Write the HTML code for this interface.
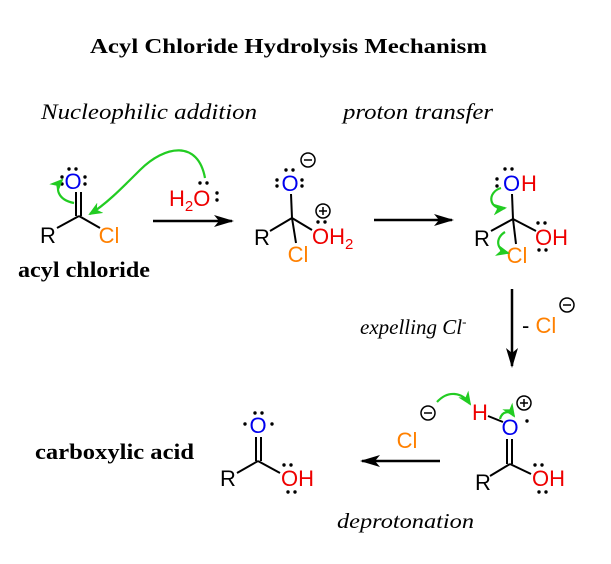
<!DOCTYPE html>
<html><head><meta charset="utf-8"><style>
html,body{margin:0;padding:0;background:#fff}
svg{display:block}
.a{font-family:"Liberation Sans",Arial,sans-serif;font-size:22px}
.s{font-family:"Liberation Serif",serif}
</style></head><body>
<svg width="611" height="564" viewBox="0 0 611 564" xmlns="http://www.w3.org/2000/svg">
<defs>
<marker id="ah" markerWidth="22" markerHeight="12" refX="18" refY="6" orient="auto" markerUnits="userSpaceOnUse"><path d="M0,0 L20,6 L0,12 L5,6z" fill="#000"/></marker>
<marker id="gh" markerWidth="14" markerHeight="12" refX="12" refY="6" orient="auto" markerUnits="userSpaceOnUse"><path d="M0,0 L14,6 L0,12 L4,6z" fill="#22cc22"/></marker>
</defs>
<g fill="#000">
<text class="s" x="90" y="53" font-size="21" font-weight="bold" textLength="397" lengthAdjust="spacingAndGlyphs">Acyl Chloride Hydrolysis Mechanism</text>
<text class="s" x="41" y="119" font-size="22" font-style="italic" textLength="216" lengthAdjust="spacingAndGlyphs">Nucleophilic addition</text>
<text class="s" x="343" y="119" font-size="22" font-style="italic" textLength="150" lengthAdjust="spacingAndGlyphs">proton transfer</text>
<text class="s" x="18" y="277" font-size="22" font-weight="bold" textLength="132" lengthAdjust="spacingAndGlyphs">acyl chloride</text>
<text class="s" x="35" y="459" font-size="22" font-weight="bold" textLength="159" lengthAdjust="spacingAndGlyphs">carboxylic acid</text>
<text class="s" x="360" y="334" font-size="21" font-style="italic">expelling Cl<tspan font-size="13" dy="-8">-</tspan></text>
<text class="s" x="337" y="528" font-size="21" font-style="italic" textLength="137" lengthAdjust="spacingAndGlyphs">deprotonation</text>
</g>
<g stroke="#000" stroke-width="2" fill="none">
<line x1="76" y1="192" x2="76" y2="216"/><line x1="81" y1="192" x2="81" y2="216"/>
<line x1="57" y1="228" x2="79" y2="216"/><line x1="79" y1="216" x2="100" y2="228"/>
<line x1="153" y1="221" x2="232" y2="221" marker-end="url(#ah)" stroke-width="2.5"/>
<line x1="374" y1="220" x2="452" y2="220" marker-end="url(#ah)" stroke-width="2.5"/>
<line x1="512" y1="289" x2="512" y2="366" marker-end="url(#ah)" stroke-width="2.5"/>
<line x1="440" y1="461" x2="362" y2="461" marker-end="url(#ah)" stroke-width="2.5"/>
<line x1="291" y1="194" x2="292" y2="218"/><line x1="270" y1="231" x2="292" y2="218"/>
<line x1="292" y1="218" x2="312" y2="230"/><line x1="292" y1="218" x2="296" y2="243"/>
<line x1="512" y1="194" x2="513" y2="219"/><line x1="491" y1="231" x2="513" y2="219"/>
<line x1="513" y1="219" x2="536" y2="231"/><line x1="513" y1="219" x2="516" y2="244"/>
<line x1="488" y1="416" x2="503" y2="422"/>
<line x1="507" y1="439" x2="507" y2="464"/><line x1="512" y1="439" x2="512" y2="464"/>
<line x1="490" y1="476" x2="510" y2="464"/><line x1="510" y1="464" x2="531" y2="474"/>
<line x1="256" y1="437" x2="256" y2="461"/><line x1="261" y1="437" x2="261" y2="461"/>
<line x1="237" y1="473" x2="258" y2="461"/><line x1="258" y1="461" x2="280" y2="473"/>
</g>
<g class="a">
<text x="73" y="189" fill="#0000ee" text-anchor="middle">O</text>
<text x="48" y="243" text-anchor="middle">R</text>
<text x="109" y="243" fill="#ff8000" text-anchor="middle">Cl</text>
<text x="169" y="206" fill="#ee0000">H<tspan font-size="15" dy="5">2</tspan><tspan dy="-5">O</tspan></text>
<text x="290" y="191" fill="#0000ee" text-anchor="middle">O</text>
<text x="262" y="245" text-anchor="middle">R</text>
<text x="298" y="262" fill="#ff8000" text-anchor="middle">Cl</text>
<text x="312" y="244" fill="#ee0000">OH<tspan font-size="15" dy="5">2</tspan></text>
<text x="503" y="191" fill="#0000ee">O</text><text x="521" y="191" fill="#ee0000">H</text>
<text x="482" y="246" text-anchor="middle">R</text>
<text x="535" y="245" fill="#ee0000">OH</text>
<text x="517" y="263" fill="#ff8000" text-anchor="middle">Cl</text>
<text x="522" y="333">- <tspan fill="#ff8000">Cl</tspan></text>
<text x="407" y="448" fill="#ff8000" text-anchor="middle">Cl</text>
<text x="480" y="420" fill="#ee0000" text-anchor="middle">H</text>
<text x="510" y="435" fill="#0000ee" text-anchor="middle">O</text>
<text x="483" y="490" text-anchor="middle">R</text>
<text x="532" y="486" fill="#ee0000">OH</text>
<text x="258" y="433" fill="#0000ee" text-anchor="middle">O</text>
<text x="228" y="486" text-anchor="middle">R</text>
<text x="281" y="486" fill="#ee0000">OH</text>
</g>
<g stroke="#000" stroke-width="1.5" fill="none">
<circle cx="308" cy="160" r="7"/><line x1="304" y1="160" x2="312" y2="160"/>
<circle cx="323" cy="211" r="7"/><line x1="319" y1="211" x2="327" y2="211"/><line x1="323" y1="207" x2="323" y2="215"/>
<circle cx="567" cy="305" r="7"/><line x1="563" y1="305" x2="571" y2="305"/>
<circle cx="428" cy="413" r="7"/><line x1="424" y1="413" x2="432" y2="413"/>
<circle cx="524" cy="403" r="7"/><line x1="520" y1="403" x2="528" y2="403"/><line x1="524" y1="399" x2="524" y2="407"/>
</g>
<g fill="#000">
<circle cx="69" cy="169" r="1.7"/><circle cx="76" cy="169" r="1.7"/>
<circle cx="62" cy="177" r="1.7"/><circle cx="62" cy="184" r="1.7"/>
<circle cx="85" cy="177" r="1.7"/><circle cx="85" cy="184" r="1.7"/>
<circle cx="200" cy="183" r="1.7"/><circle cx="207" cy="183" r="1.7"/>
<circle cx="217" cy="193" r="1.7"/><circle cx="217" cy="200" r="1.7"/>
<circle cx="286" cy="170" r="1.7"/><circle cx="293" cy="170" r="1.7"/>
<circle cx="277" cy="180" r="1.7"/><circle cx="277" cy="186" r="1.7"/>
<circle cx="302" cy="180" r="1.7"/><circle cx="302" cy="186" r="1.7"/>
<circle cx="318" cy="222" r="1.7"/><circle cx="325" cy="222" r="1.7"/>
<circle cx="505" cy="169" r="1.7"/><circle cx="512" cy="169" r="1.7"/>
<circle cx="497" cy="179" r="1.7"/><circle cx="497" cy="186" r="1.7"/>
<circle cx="538" cy="223" r="1.7"/><circle cx="545" cy="223" r="1.7"/>
<circle cx="539" cy="250" r="1.7"/><circle cx="546" cy="250" r="1.7"/>
<circle cx="527" cy="421" r="1.7"/>
<circle cx="535" cy="465" r="1.7"/><circle cx="542" cy="465" r="1.7"/>
<circle cx="539" cy="492" r="1.7"/><circle cx="546" cy="492" r="1.7"/>
<circle cx="255" cy="413" r="1.7"/><circle cx="262" cy="413" r="1.7"/>
<circle cx="245" cy="424" r="1.7"/><circle cx="272" cy="424" r="1.7"/>
<circle cx="284" cy="465" r="1.7"/><circle cx="291" cy="465" r="1.7"/>
<circle cx="288" cy="492" r="1.7"/><circle cx="295" cy="492" r="1.7"/>
</g>
<g stroke="#22cc22" stroke-width="2.2" fill="none">
<path d="M205,178 C198,140 165,145 140,170 C120,190 105,205 90,214" marker-end="url(#gh)"/>
<path d="M74,203 C58,200 54,188 62,180" marker-end="url(#gh)"/>
<path d="M501,188 C487,192 488,210 505,208" marker-end="url(#gh)"/>
<path d="M505,232 C495,238 496,250 508,253" marker-end="url(#gh)"/>
<path d="M437,402 C448,390 462,392 470,404" marker-end="url(#gh)"/>
<path d="M500,419 C502,411 510,410 514,416" marker-end="url(#gh)"/>
</g>
</svg>
</body></html>
